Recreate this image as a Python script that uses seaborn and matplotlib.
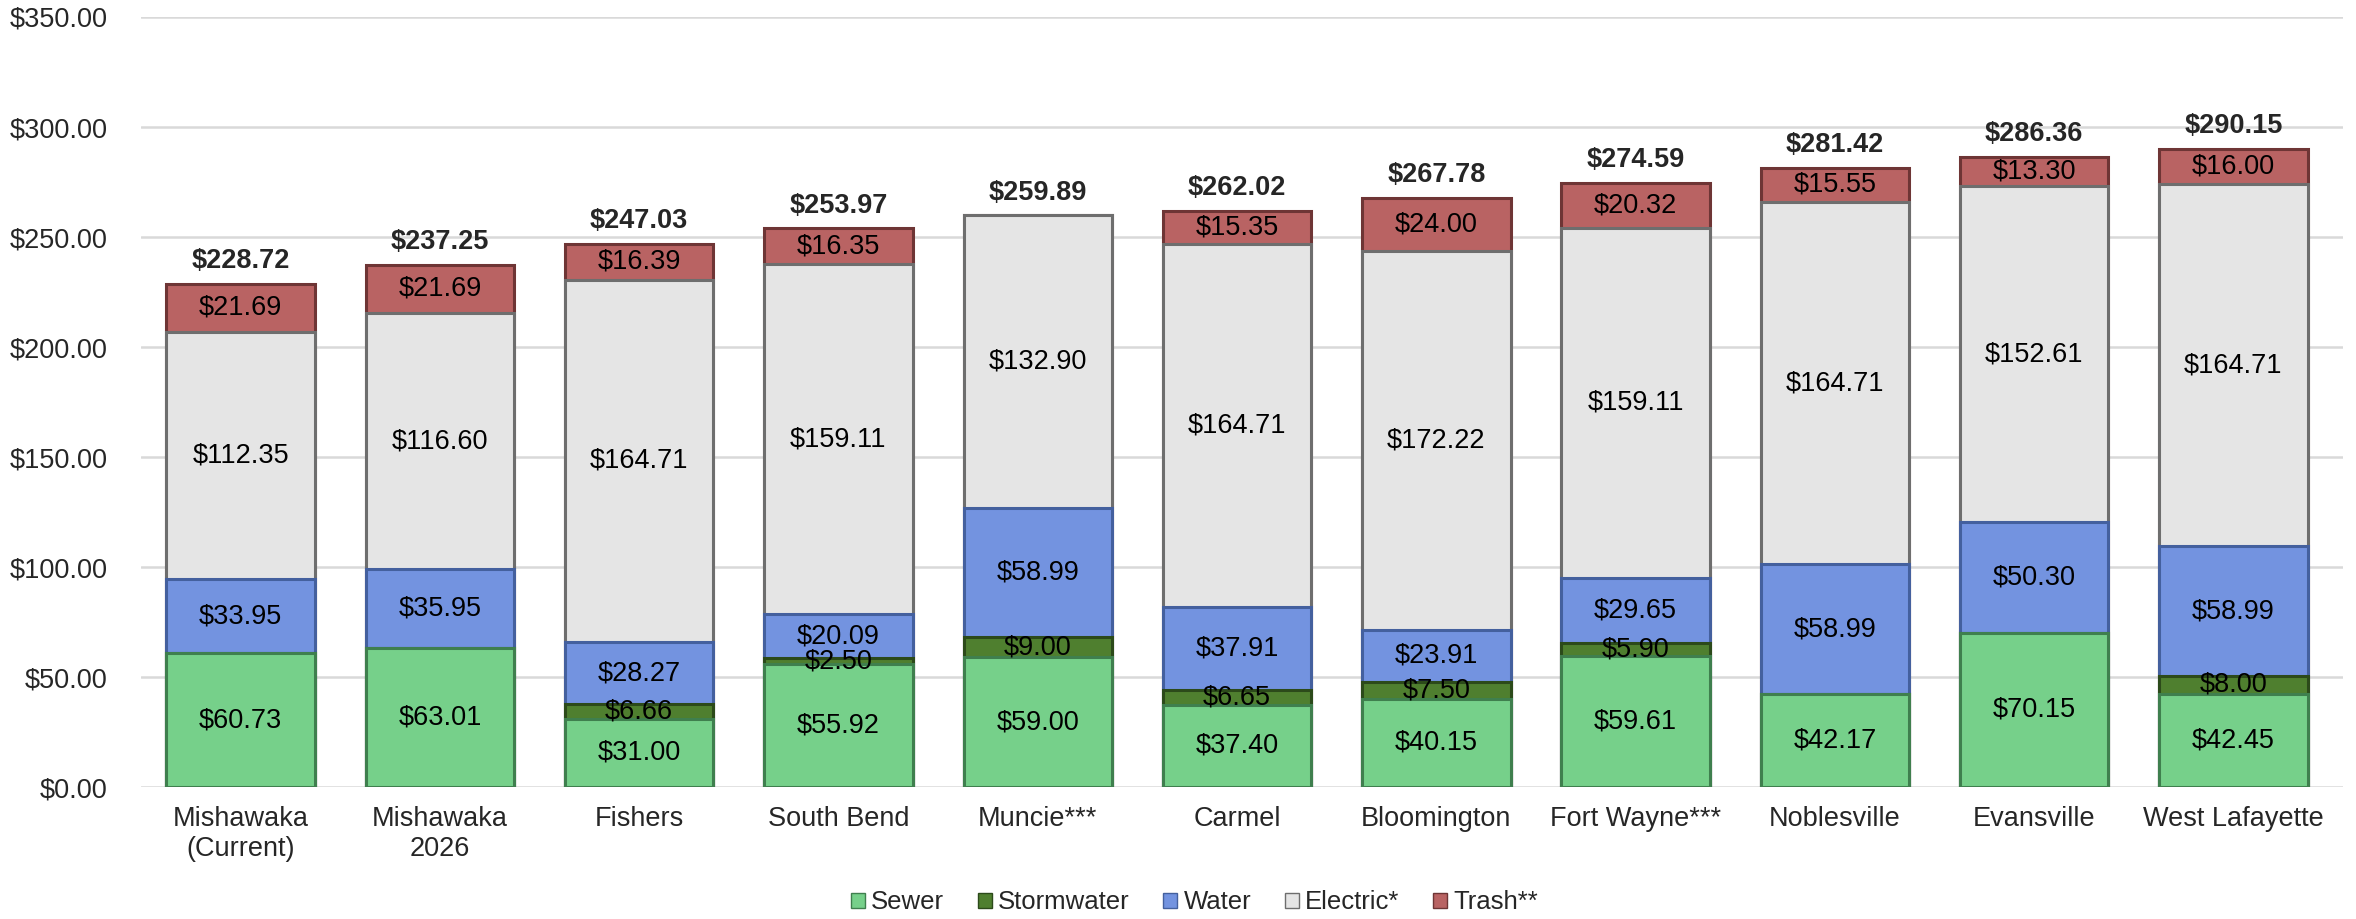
import matplotlib
matplotlib.use("Agg")
import matplotlib.pyplot as plt
import seaborn as sns
import pandas as pd
import numpy as np
from matplotlib.patches import Patch

cities = ["Mishawaka\n(Current)", "Mishawaka\n2026", "Fishers", "South Bend", "Muncie***",
          "Carmel", "Bloomington", "Fort Wayne***", "Noblesville", "Evansville", "West Lafayette"]
sewer = [60.73, 63.01, 31.00, 55.92, 59.00, 37.40, 40.15, 59.61, 42.17, 70.15, 42.45]
stormwater = [0, 0, 6.66, 2.50, 9.00, 6.65, 7.50, 5.90, 0, 0, 8.00]
water = [33.95, 35.95, 28.27, 20.09, 58.99, 37.91, 23.91, 29.65, 58.99, 50.30, 58.99]
electric = [112.35, 116.60, 164.71, 159.11, 132.90, 164.71, 172.22, 159.11, 164.71, 152.61, 164.71]
trash = [21.69, 21.69, 16.39, 16.35, 0, 15.35, 24.00, 20.32, 15.55, 13.30, 16.00]
totals = [228.72, 237.25, 247.03, 253.97, 259.89, 262.02, 267.78, 274.59, 281.42, 286.36, 290.15]

series_names = ["Sewer", "Stormwater", "Water", "Electric*", "Trash**"]
series_vals = [sewer, stormwater, water, electric, trash]
colors = ["#76D08A", "#4F7F2F", "#7393E0", "#E5E5E5", "#B96363"]
edges = ["#3F7F4E", "#2C4A1A", "#44609E", "#6E6E6E", "#6E3535"]

sns.set_theme(style="white")
plt.rcParams["font.family"] = ["Liberation Sans", "DejaVu Sans"]

fig = plt.figure(figsize=(23.56, 9.19), dpi=100)
ax = fig.add_axes([141 / 2356, 1 - 787 / 919, (2343 - 141) / 2356, (787 - 17) / 919])

df = pd.DataFrame({"city": cities})
cum = np.zeros(len(cities))
cums = []
for vals in series_vals:
    cum = cum + np.array(vals)
    cums.append(cum.copy())

# draw from top of stack down so lower segments overlay
for i in range(len(series_names) - 1, -1, -1):
    d = df.copy()
    d["value"] = cums[i]
    sns.barplot(data=d, x="city", y="value", color=colors[i], edgecolor=edges[i],
                linewidth=2.2, width=0.745, ax=ax, saturation=1, errorbar=None, zorder=2)

# segment labels
for i, vals in enumerate(series_vals):
    for j, v in enumerate(vals):
        if v > 0:
            mid = cums[i][j] - v / 2
            ax.text(j, mid, f"${v:,.2f}", ha="center", va="center", fontsize=19.5,
                    color="black", zorder=5)

for j, t in enumerate(totals):
    ax.annotate(f"${t:,.2f}", (j, t), xytext=(0, 7), textcoords="offset points",
                ha="center", va="bottom", fontsize=19.5, fontweight="bold", zorder=5)

ax.set_ylim(0, 350)
ax.set_xlim(-0.5, 10.55)
ax.set_yticks(np.arange(0, 351, 50))
ax.set_yticklabels([f"${v:,.2f}" for v in np.arange(0, 351, 50)])
ax.yaxis.grid(True, color="#D9D9D9", linewidth=1.8, zorder=0)
ax.set_axisbelow(True)
for s in ax.spines.values():
    s.set_visible(False)
ax.tick_params(axis="y", length=0, pad=24, labelsize=19.5)
ax.tick_params(axis="x", length=0, pad=14, labelsize=19.5)
ax.set_xlabel("")
ax.set_ylabel("")

handles = [Patch(facecolor=c, edgecolor=e, linewidth=1, label=n)
           for c, e, n in zip(colors, edges, series_names)]
fig.legend(handles=handles, loc="center", bbox_to_anchor=(0.507, 0.018), ncol=5,
           frameon=False, fontsize=18.5, handlelength=0.55, handleheight=0.55,
           handletextpad=0.25, columnspacing=1.3)

fig.savefig("out.png", dpi=100)
